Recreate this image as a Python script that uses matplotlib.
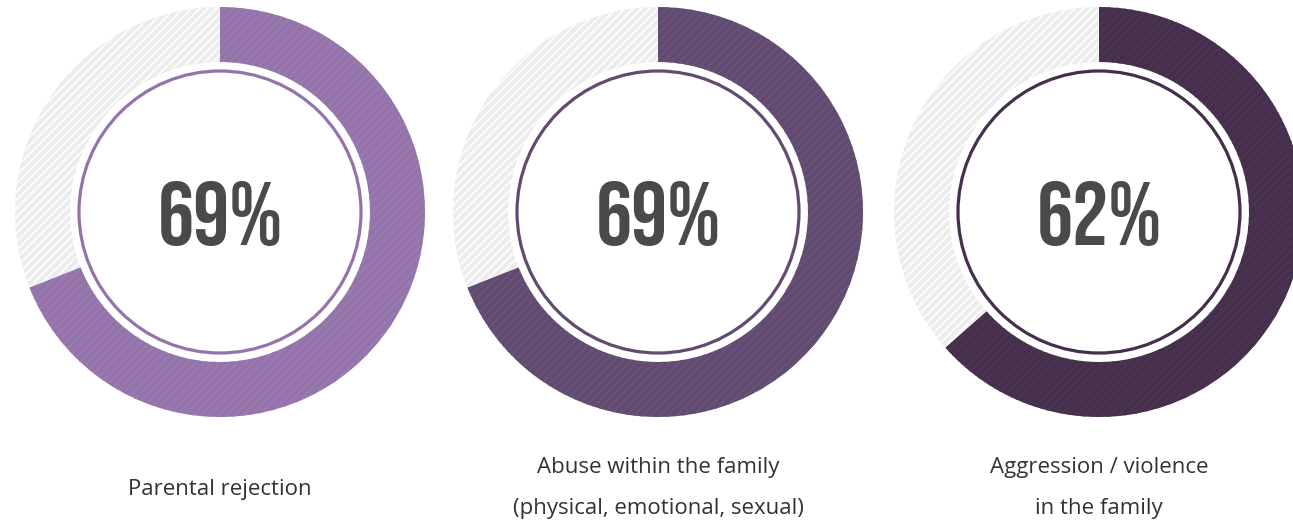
import matplotlib.pyplot as plt

# data
labels = ["Parental rejection",
          "Abuse within the family\n(physical, emotional, sexual)",
          "Aggression / violence\nin the family"]
percents = [69, 69, 62]          # printed values
arc_shares = [69, 69, 63.5]      # arc lengths as drawn in the original
ring_colors = ["#9474AA", "#624B70", "#452F4C"]
stripe_colors = ["#9B7CB0", "#6A5378", "#4B3552"]

# layout constants (pixel space, y measured from bottom)
W, H = 1293, 521
CENTERS_X = [220, 658, 1099]
CENTER_Y = H - 212
R_OUTER = 205
RING_WIDTH = 55
R_LINE = 141
TRACK_COLOR = "#ECECEC"
TEXT_COLOR = "#4A4A4A"

plt.rcParams['hatch.linewidth'] = 1.2

fig = plt.figure(figsize=(W / 100, H / 100), dpi=100)
ax = fig.add_axes([0, 0, 1, 1])
ax.set_xlim(0, W)
ax.set_ylim(0, H)
ax.set_aspect('equal')
ax.axis('off')

for cx, pct, share, col, scol, lab in zip(CENTERS_X, percents, arc_shares,
                                          ring_colors, stripe_colors, labels):
    wedges, _ = ax.pie([share, 100 - share], center=(cx, CENTER_Y), radius=R_OUTER,
                       startangle=90, counterclock=False,
                       colors=[col, TRACK_COLOR],
                       wedgeprops=dict(width=RING_WIDTH, linewidth=0))
    wedges[0].set_edgecolor(scol)
    wedges[0].set_hatch('////')
    wedges[1].set_edgecolor('white')
    wedges[1].set_hatch('////')
    for w in wedges:
        w.set_linewidth(0)

    # thin inner circle
    ax.add_patch(plt.Circle((cx, CENTER_Y), R_LINE, fill=False, edgecolor=col, linewidth=2.3))

    # big percentage
    ax.text(cx, CENTER_Y - 1, f"{pct}%", ha='center', va='center_baseline',
            fontsize=65, color=TEXT_COLOR,
            family=['Bebas Neue', 'DejaVu Sans'])

    # caption
    n_lines = lab.count('\n') + 1
    y_cap = H - 489 if n_lines == 1 else H - 488
    ax.text(cx, y_cap, lab, ha='center', va='center', fontsize=16,
            color='#333333', family='Open Sans', linespacing=2.2)

ax.set_xlim(0, W)
ax.set_ylim(0, H)
fig.savefig("out.png", dpi=100)
